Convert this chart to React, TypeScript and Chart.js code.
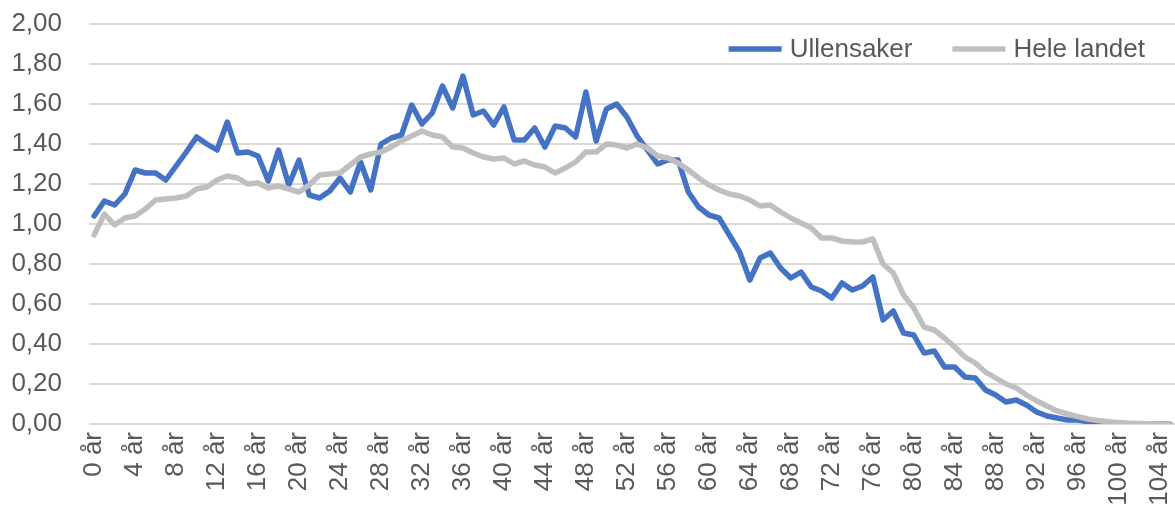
import React, { useEffect, useRef } from "react";
import { Chart, registerables } from "chart.js";

Chart.register(...registerables);

const ages: string[] = Array.from({ length: 106 }, (_, i) => `${i} år`);

const ullensaker: number[] = [
  1.04, 1.115, 1.095, 1.15, 1.27, 1.255, 1.255, 1.22, 1.29, 1.36,
  1.435, 1.4, 1.37, 1.51, 1.355, 1.36, 1.34, 1.215, 1.37, 1.195,
  1.32, 1.145, 1.13, 1.165, 1.23, 1.16, 1.31, 1.17, 1.4, 1.43,
  1.445, 1.595, 1.5, 1.555, 1.69, 1.58, 1.74, 1.545, 1.565, 1.495,
  1.585, 1.42, 1.42, 1.48, 1.385, 1.49, 1.48, 1.435, 1.66, 1.415,
  1.575, 1.6, 1.535, 1.44, 1.37, 1.3, 1.32, 1.32, 1.16, 1.085,
  1.045, 1.03, 0.945, 0.86, 0.72, 0.83, 0.855, 0.78, 0.73, 0.76,
  0.685, 0.665, 0.63, 0.705, 0.67, 0.69, 0.735, 0.52, 0.565, 0.455,
  0.445, 0.355, 0.365, 0.285, 0.285, 0.235, 0.23, 0.17, 0.145, 0.11,
  0.12, 0.095, 0.06, 0.04, 0.03, 0.02, 0.02, 0.012, 0.006, 0.003,
  0, 0, 0, 0, 0, 0,
];

const heleLandet: number[] = [
  0.945, 1.05, 0.995, 1.03, 1.04, 1.075, 1.12, 1.125, 1.13, 1.14,
  1.175, 1.185, 1.22, 1.24, 1.23, 1.2, 1.205, 1.18, 1.19, 1.175,
  1.16, 1.195, 1.245, 1.25, 1.255, 1.295, 1.335, 1.35, 1.36, 1.385,
  1.415, 1.44, 1.465, 1.445, 1.435, 1.385, 1.38, 1.355, 1.335, 1.325,
  1.33, 1.3, 1.315, 1.295, 1.285, 1.255, 1.28, 1.31, 1.36, 1.36,
  1.4, 1.395, 1.38, 1.4, 1.38, 1.34, 1.33, 1.305, 1.27, 1.23,
  1.195, 1.17, 1.15, 1.14, 1.12, 1.09, 1.095, 1.06, 1.03, 1.005,
  0.98, 0.93, 0.93, 0.915, 0.91, 0.91, 0.925, 0.8, 0.755, 0.645,
  0.58, 0.485, 0.47, 0.43, 0.385, 0.335, 0.305, 0.26, 0.23, 0.2,
  0.18, 0.145, 0.115, 0.09, 0.065, 0.05, 0.037, 0.025, 0.017, 0.011,
  0.007, 0.004, 0.002, 0.001, 0.0005, 0,
];

const seriesNames: string[] = ["Ullensaker", "Hele landet"];
const seriesColors: string[] = ["#4472C4", "#BFBFBF"];

const FONT = "'Liberation Sans', Arial, sans-serif";
const TEXT_COLOR = "#595959";

const legendPlugin = {
  id: "insideLegend",
  afterDraw(chart: any) {
    const ctx = chart.ctx as CanvasRenderingContext2D;
    ctx.save();
    ctx.font = `26px ${FONT}`;
    ctx.textBaseline = "middle";
    ctx.textAlign = "left";
    const y = 49;
    const lineLen = 53;
    const gap = 8;
    const between = 40;
    const dsets = chart.data.datasets;
    const widths = dsets.map((d: any) => ctx.measureText(d.label).width);
    const total =
      widths.reduce((a: number, w: number) => a + w + lineLen + gap, 0) +
      between * (dsets.length - 1);
    let x = 1145 - total;
    dsets.forEach((d: any, i: number) => {
      ctx.strokeStyle = d.borderColor;
      ctx.lineWidth = 5.5;
      ctx.lineCap = "butt";
      ctx.beginPath();
      ctx.moveTo(x, y);
      ctx.lineTo(x + lineLen, y);
      ctx.stroke();
      x += lineLen + gap;
      ctx.fillStyle = TEXT_COLOR;
      ctx.fillText(d.label, x, y + 1);
      x += widths[i] + between;
    });
    ctx.restore();
  },
};

export default function App() {
  const ref = useRef<HTMLCanvasElement | null>(null);
  useEffect(() => {
    document.body.style.margin = "0";
    if (!ref.current) return;
    const chart = new Chart(ref.current, {
      type: "line",
      data: {
        labels: ages,
        datasets: [
          {
            label: seriesNames[0],
            data: ullensaker,
            borderColor: seriesColors[0],
            backgroundColor: seriesColors[0],
            borderWidth: 5.5,
            pointRadius: 0,
            tension: 0,
            order: 1,
            borderJoinStyle: "round",
            borderCapStyle: "round",
          },
          {
            label: seriesNames[1],
            data: heleLandet,
            borderColor: seriesColors[1],
            backgroundColor: seriesColors[1],
            borderWidth: 5.5,
            pointRadius: 0,
            tension: 0,
            order: 0,
            borderJoinStyle: "round",
            borderCapStyle: "round",
          },
        ],
      },
      options: {
        responsive: false,
        animation: false,
        layout: { padding: { top: 24, right: 0, bottom: 0, left: 0 } },
        plugins: {
          legend: { display: false },
          tooltip: { enabled: false },
        },
        scales: {
          x: {
            type: "category",
            offset: true,
            grid: { display: false, drawTicks: false },
            border: { display: false },
            afterFit: (s: any) => {
              s.height = 93;
              s.paddingLeft = 0;
              s.paddingRight = 0;
            },
            ticks: {
              autoSkip: false,
              maxRotation: 90,
              minRotation: 90,
              padding: 8,
              color: TEXT_COLOR,
              font: { family: FONT, size: 26 },
              callback: (_v: any, i: number) => (i % 4 === 0 ? ages[i] : ""),
            },
          },
          y: {
            min: 0,
            max: 2,
            grid: { color: "#D9D9D9", lineWidth: 2, drawTicks: false },
            border: { display: false },
            afterFit: (s: any) => {
              s.width = 89;
              s.paddingTop = 0;
              s.paddingBottom = 0;
            },
            ticks: {
              stepSize: 0.2,
              padding: 27,
              color: TEXT_COLOR,
              font: { family: FONT, size: 26 },
              callback: (v: any) => Number(v).toFixed(2).replace(".", ","),
            },
          },
        },
      },
      plugins: [legendPlugin],
    });
    return () => chart.destroy();
  }, []);
  return <canvas ref={ref} width={1175} height={517} style={{ display: "block" }} />;
}
